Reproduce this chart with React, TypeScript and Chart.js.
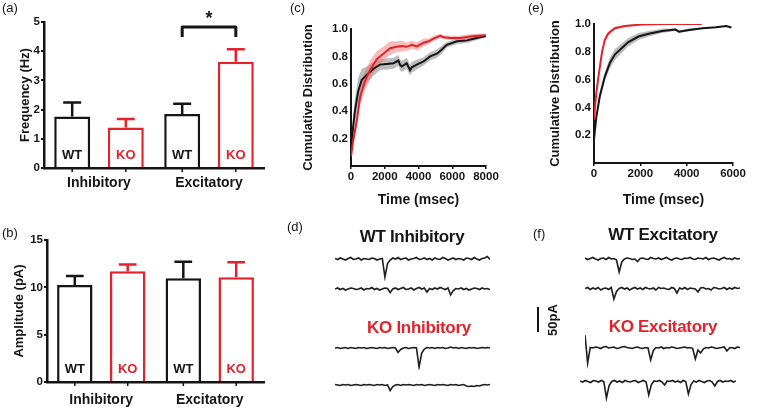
import React, { useEffect, useRef } from 'react';
import { Chart, registerables } from 'chart.js';
Chart.register(...registerables);

const FONT = "'Liberation Sans', Arial, Helvetica, sans-serif";
const RED = '#e2232b';
const INK = '#151515';

// ---------- (a) Frequency ----------
const groupLabels = ['Inhibitory', 'Excitatory'];
const seriesNames = ['WT', 'KO'];
const freqWT = [1.76, 1.85];
const freqWTErr = [0.48, 0.35];
const freqKO = [1.39, 3.64];
const freqKOErr = [0.29, 0.43];
const freqMax = 5;
const freqStep = 1;
const sigLevels = [4.83, 4.49]; // bracket level, bracket end
const sigText = '*';

// ---------- (b) Amplitude ----------
const ampWT = [10.24, 10.95];
const ampWTErr = [0.96, 1.75];
const ampKO = [11.7, 11.06];
const ampKOErr = [0.7, 1.6];
const ampMax = 15;
const ampStep = 5;

// ---------- (c) Cumulative distribution, inhibitory ----------
const cKOTime = [0, 150, 340, 535, 830, 1130, 1525, 1920, 2320, 2710, 3000, 3300, 3600, 3900, 4300, 4600, 4890, 5290, 5485, 5880, 6475, 7070, 7500, 8000];
const cKOMean = [0.07, 0.2, 0.33, 0.5, 0.62, 0.7, 0.78, 0.82, 0.86, 0.87, 0.875, 0.87, 0.885, 0.873, 0.9, 0.91, 0.93, 0.95, 0.94, 0.935, 0.935, 0.946, 0.95, 0.955];
const cKOSem = [0.01, 0.03, 0.05, 0.06, 0.07, 0.07, 0.06, 0.05, 0.05, 0.04, 0.04, 0.03, 0.03, 0.03, 0.03, 0.02, 0.02, 0.015, 0.015, 0.015, 0.015, 0.015, 0.015, 0.01];
const cWTTime = [0, 120, 240, 435, 640, 930, 1330, 1720, 2120, 2515, 2810, 2900, 3010, 3300, 3500, 3600, 3900, 4300, 4690, 5090, 5385, 5680, 6280, 6870, 7465, 8000];
const cWTMean = [0.1, 0.28, 0.41, 0.55, 0.63, 0.665, 0.71, 0.74, 0.745, 0.75, 0.77, 0.74, 0.726, 0.75, 0.7, 0.72, 0.74, 0.763, 0.8, 0.82, 0.85, 0.885, 0.91, 0.917, 0.934, 0.95];
const cWTSem = [0.02, 0.06, 0.09, 0.1, 0.08, 0.06, 0.05, 0.04, 0.04, 0.04, 0.04, 0.04, 0.04, 0.04, 0.04, 0.04, 0.035, 0.03, 0.03, 0.03, 0.03, 0.02, 0.02, 0.02, 0.015, 0.01];
const cXMax = 8000;

// ---------- (e) Cumulative distribution, excitatory ----------
const eKOTime = [0, 50, 100, 175, 250, 350, 465, 610, 900, 1340, 2070, 3000, 4000, 4650];
const eKOMean = [0.31, 0.42, 0.5, 0.6, 0.69, 0.8, 0.885, 0.93, 0.97, 0.985, 0.997, 1.0, 1.0, 1.0];
const eKOSem = [0.01, 0.02, 0.02, 0.02, 0.02, 0.02, 0.02, 0.015, 0.01, 0.008, 0.005, 0.003, 0.003, 0.003];
const eWTTime = [0, 100, 250, 465, 685, 900, 1190, 1485, 1920, 2360, 2940, 3520, 3670, 4100, 4690, 5270, 5710, 5930];
const eWTMean = [0.17, 0.33, 0.48, 0.62, 0.72, 0.78, 0.825, 0.87, 0.91, 0.93, 0.95, 0.96, 0.945, 0.957, 0.97, 0.976, 0.985, 0.975];
const eWTSem = [0.01, 0.02, 0.03, 0.03, 0.04, 0.04, 0.035, 0.03, 0.025, 0.02, 0.015, 0.01, 0.01, 0.01, 0.005, 0.005, 0.005, 0.005];
const eXMax = 6000;

// ---------- (d)/(f) example traces (pA) ----------
const dWT1 = [1,-1,2,0,-2,1,3,-1,0,2,-2,1,0,-1,2,1,-2,0,1,-36,-9,-2,2,0,3,-1,1,2,-2,0,1,3,-1,0,2,-1,1,-2,2,0,-1,3,1,-2,0,2,-1,1,0,-2,2,1,-1,3,0,-2,1,2,5,-1];
const dWT2 = [0,2,-1,1,-2,0,2,1,-1,0,2,-2,1,0,3,-1,1,-2,0,2,1,-7,0,2,-1,1,3,-1,0,2,-2,1,3,0,2,-6,1,-1,2,0,3,1,-1,2,-12,-3,1,0,2,-1,1,-2,0,2,1,-1,2,0,1,-1];
const dKO1 = [0,1,-1,0,1,-1,1,0,-1,1,0,1,-1,0,1,0,-1,1,0,1,-1,0,1,0,-9,-3,0,1,-1,0,1,0,-38,-10,-2,1,0,1,-1,1,0,1,-1,0,2,0,1,-1,1,0,-1,1,0,1,-1,0,1,0,1,0];
const dKO2 = [1,0,-1,1,0,1,-1,0,1,0,-1,1,0,1,0,-1,1,0,1,-1,0,-11,-3,0,1,-1,1,0,1,0,-1,1,0,1,-1,0,1,0,-1,1,0,1,0,-1,1,0,1,-1,0,1,-2,-3,-2,-3,-1,-2,0,1,0,1];
const fWT1 = [2,-1,1,3,0,-2,1,2,-1,3,0,1,-2,-26,-6,0,2,1,-1,0,-5,1,2,0,-1,3,1,0,2,-1,1,3,0,-2,1,2,0,-1,2,1,3,0,-1,2,1,0,3,-1,1,2,0,-2,1,3,0,1,-1,2,0,1];
const fWT2 = [1,3,-1,2,0,3,-2,1,2,-1,3,-20,-5,1,3,0,2,-2,1,3,0,2,-1,3,1,0,2,-2,3,1,2,0,-1,3,1,-8,2,0,3,-1,2,1,0,-6,2,3,0,1,-2,3,2,0,1,3,-1,2,0,3,1,2];
const fKO1 = [26,-30,1,0,2,1,-1,2,3,0,1,2,-1,0,2,3,1,0,-1,1,2,0,-1,1,0,-24,-5,1,0,2,-1,1,0,2,1,-1,0,1,2,0,1,-1,-22,-4,-10,-2,1,0,2,1,-1,0,1,2,-6,0,1,-1,2,1];
const fKO2 = [2,0,3,1,-1,3,2,0,3,1,-32,-7,1,3,0,2,-1,3,1,0,2,3,-1,1,3,0,-26,-5,2,1,3,0,-6,2,1,3,0,2,-1,3,1,-24,-5,2,0,3,1,-1,2,3,0,-8,1,3,0,2,1,3,0,2];
const traceRange = [-44, 44];
const scaleBarText = '50pA';

const panelTitles = { dWT: 'WT Inhibitory', dKO: 'KO Inhibitory', fWT: 'WT Excitatory', fKO: 'KO Excitatory' };

const baseOptions = {
  responsive: false,
  animation: false as const,
  devicePixelRatio: 1,
  events: [] as any[],
  plugins: { legend: { display: false }, tooltip: { enabled: false } },
};

const barDecor = {
  id: 'barDecor',
  afterDatasetsDraw(chart: any, _a: any, opts: any) {
    const ctx = chart.ctx;
    const y = chart.scales.y;
    const base = y.getPixelForValue(0);
    ctx.save();
    chart.data.datasets.forEach((ds: any, di: number) => {
      const meta = chart.getDatasetMeta(di);
      meta.data.forEach((bar: any, i: number) => {
        const v = ds.data[i];
        const e = ds.errors[i];
        const x = bar.x;
        const w = bar.width;
        const top = y.getPixelForValue(v);
        const tip = y.getPixelForValue(v + e);
        ctx.strokeStyle = ds.borderColor;
        ctx.lineWidth = 2.5;
        ctx.beginPath();
        ctx.moveTo(x, top);
        ctx.lineTo(x, tip);
        ctx.moveTo(x - w * 0.25, tip);
        ctx.lineTo(x + w * 0.25, tip);
        ctx.stroke();
        ctx.fillStyle = ds.borderColor;
        ctx.font = `bold 13px ${FONT}`;
        ctx.textAlign = 'center';
        ctx.textBaseline = 'middle';
        ctx.fillText(ds.label, x, base - 13);
        ctx.strokeStyle = INK;
        ctx.lineWidth = 1.5;
        ctx.beginPath();
        ctx.moveTo(x, base);
        ctx.lineTo(x, base + 4);
        ctx.stroke();
      });
    });
    if (opts && opts.sig) {
      const x1 = chart.getDatasetMeta(0).data[1].x;
      const x2 = chart.getDatasetMeta(1).data[1].x;
      const yl = y.getPixelForValue(opts.sig[0]);
      const yd = y.getPixelForValue(opts.sig[1]);
      ctx.strokeStyle = INK;
      ctx.lineWidth = 3;
      ctx.lineJoin = 'round';
      ctx.beginPath();
      ctx.moveTo(x1, yd);
      ctx.lineTo(x1, yl);
      ctx.lineTo(x2, yl);
      ctx.lineTo(x2, yd);
      ctx.stroke();
      ctx.fillStyle = INK;
      ctx.font = `bold 18px ${FONT}`;
      ctx.textAlign = 'center';
      ctx.textBaseline = 'alphabetic';
      ctx.fillText(opts.text, (x1 + x2) / 2, yl - 3);
    }
    ctx.restore();
  },
};

function barConfig(p: any) {
  return {
    type: 'bar',
    data: {
      labels: groupLabels,
      datasets: [
        { label: seriesNames[0], data: p.wt, errors: p.wtErr, borderColor: INK, backgroundColor: '#fff', borderWidth: 2.5 },
        { label: seriesNames[1], data: p.ko, errors: p.koErr, borderColor: RED, backgroundColor: '#fff', borderWidth: 2.5 },
      ],
    },
    plugins: [barDecor],
    options: {
      ...baseOptions,
      categoryPercentage: 0.975,
      barPercentage: 0.67,
      layout: { padding: { left: 0, top: p.padTop, right: p.padRight, bottom: 0 } },
      plugins: { ...baseOptions.plugins, barDecor: { sig: p.sig, text: sigText } },
      scales: {
        x: {
          grid: { display: true, drawOnChartArea: false, drawTicks: false },
          border: { color: INK, width: 2.5 },
          ticks: { color: INK, font: { family: FONT, size: 14, weight: 'bold' }, padding: p.labelPad },
          afterFit: (s: any) => { s.height = p.xHeight; },
        },
        y: {
          min: 0,
          max: p.max,
          ticks: { stepSize: p.step, color: INK, font: { family: FONT, size: 11.5, weight: 'bold' }, padding: 1 },
          grid: { drawOnChartArea: false, drawTicks: true, tickLength: 3, color: INK, lineWidth: 2 },
          border: { color: INK, width: 2.5 },
          title: { display: true, text: p.title, color: INK, font: { family: FONT, size: 13, weight: 'bold' }, padding: { top: p.titlePad, bottom: 0 } },
          afterFit: (s: any) => { s.width = p.yWidth; },
        },
      },
    },
  };
}

function pts(t: number[], m: number[], s: number[] | null, sign: number) {
  return t.map((x, i) => ({ x, y: m[i] + (s ? sign * s[i] : 0) }));
}

function cumConfig(p: any) {
  const line = (data: any, color: string, order: number) => ({ data, borderColor: color, borderWidth: 2, pointRadius: 0, tension: 0, fill: false, order });
  const edge = (data: any, fill: any, bg: string) => ({ data, borderColor: 'rgba(0,0,0,0)', borderWidth: 1, pointRadius: 0, tension: 0, fill, backgroundColor: bg, order: 2 });
  return {
    type: 'line',
    data: {
      datasets: [
        line(pts(p.koT, p.koM, null, 0), RED, 0),
        line(pts(p.wtT, p.wtM, null, 0), INK, 1),
        edge(pts(p.koT, p.koM, p.koS, 1), false, 'rgba(0,0,0,0)'),
        edge(pts(p.koT, p.koM, p.koS, -1), '-1', 'rgba(238,95,95,0.42)'),
        edge(pts(p.wtT, p.wtM, p.wtS, 1), false, 'rgba(0,0,0,0)'),
        edge(pts(p.wtT, p.wtM, p.wtS, -1), '-1', 'rgba(95,95,95,0.42)'),
      ],
    },
    options: {
      ...baseOptions,
      layout: { padding: { left: 0, top: p.padTop, right: p.padRight, bottom: 0 } },
      scales: {
        x: {
          type: 'linear',
          min: 0,
          max: p.xMax,
          ticks: { stepSize: 2000, color: INK, font: { family: FONT, size: 11.5, weight: 'bold' }, padding: 1, callback: (v: number) => String(v) },
          grid: { drawOnChartArea: false, drawTicks: true, tickLength: 3, color: INK, lineWidth: 1.5 },
          border: { color: INK, width: 2 },
          title: { display: true, text: 'Time (msec)', color: INK, font: { family: FONT, size: 14, weight: 'bold' }, padding: { top: 0, bottom: 1.6 } },
          afterFit: (s: any) => { s.height = p.xHeight; },
        },
        y: {
          min: 0,
          max: 1,
          ticks: { stepSize: 0.2, color: INK, font: { family: FONT, size: 11.5, weight: 'bold' }, padding: 3, callback: (v: number) => (v === 0 ? '' : v.toFixed(1)) },
          grid: { drawOnChartArea: false, drawTicks: false },
          border: { color: INK, width: 2 },
          title: { display: true, text: 'Cumulative Distribution', color: INK, font: { family: FONT, size: 13, weight: 'bold' }, padding: { top: p.titlePad, bottom: 0 } },
          afterFit: (s: any) => { s.width = p.yWidth; },
        },
      },
    },
  };
}

function traceConfig(values: number[]) {
  return {
    type: 'line',
    data: {
      labels: values.map((_, i) => i),
      datasets: [{ data: values, borderColor: '#1e1e1e', borderWidth: 1.6, pointRadius: 0, tension: 0, fill: false }],
    },
    options: {
      ...baseOptions,
      layout: { padding: 0 },
      scales: {
        x: { display: false, offset: false },
        y: { display: false, min: traceRange[0], max: traceRange[1] },
      },
    },
  };
}

function ChartBox({ left, top, width, height, config }: any) {
  const ref = useRef<HTMLCanvasElement>(null);
  useEffect(() => {
    const chart = new Chart(ref.current as HTMLCanvasElement, config as any);
    return () => chart.destroy();
  }, []);
  return (
    <div style={{ position: 'absolute', left, top, width, height }}>
      <canvas ref={ref} width={width} height={height} style={{ display: 'block', width, height }} />
    </div>
  );
}

function Label({ x, y, text, color = INK, size = 13, bold = false, center = false }: any) {
  return (
    <div
      style={{
        position: 'absolute',
        left: x,
        top: y,
        transform: center ? 'translate(-50%, -50%)' : undefined,
        fontFamily: FONT,
        fontSize: size,
        fontWeight: bold ? 'bold' : 'normal',
        color,
        whiteSpace: 'nowrap',
        lineHeight: 1.15,
        letterSpacing: bold && size > 15 ? '-0.3px' : undefined,
      }}
    >
      {text}
    </div>
  );
}

export default function App() {
  const aCfg = barConfig({ wt: freqWT, wtErr: freqWTErr, ko: freqKO, koErr: freqKOErr, max: freqMax, step: freqStep, title: 'Frequency (Hz)', yWidth: 44, padTop: 22, padRight: 4, xHeight: 32, titlePad: 18, labelPad: 7, sig: sigLevels });
  const bCfg = barConfig({ wt: ampWT, wtErr: ampWTErr, ko: ampKO, koErr: ampKOErr, max: ampMax, step: ampStep, title: 'Amplitude (pA)', yWidth: 47, padTop: 40, padRight: 4, xHeight: 29, titlePad: 12, labelPad: 9.6, sig: null });
  const cCfg = cumConfig({ koT: cKOTime, koM: cKOMean, koS: cKOSem, wtT: cWTTime, wtM: cWTMean, wtS: cWTSem, xMax: cXMax, yWidth: 89, padTop: 29, padRight: 26, xHeight: 44, titlePad: 39 });
  const eCfg = cumConfig({ koT: eKOTime, koM: eKOMean, koS: eKOSem, wtT: eWTTime, wtM: eWTMean, wtS: eWTSem, xMax: eXMax, yWidth: 82, padTop: 24, padRight: 28, xHeight: 47, titlePad: 36 });

  return (
    <div style={{ position: 'absolute', left: 0, top: 0, width: 761, height: 411, background: '#fff', overflow: 'hidden' }}>
      <ChartBox left={0} top={0} width={268} height={200} config={aCfg} />
      <ChartBox left={0} top={200} width={268} height={211} config={bCfg} />
      <ChartBox left={262} top={0} width={250} height={210} config={cCfg} />
      <ChartBox left={512} top={0} width={249} height={210} config={eCfg} />

      <ChartBox left={335} top={237} width={155} height={44} config={traceConfig(dWT1)} />
      <ChartBox left={335} top={267} width={155} height={44} config={traceConfig(dWT2)} />
      <ChartBox left={335} top={326} width={155} height={44} config={traceConfig(dKO1)} />
      <ChartBox left={335} top={363} width={155} height={44} config={traceConfig(dKO2)} />
      <ChartBox left={585} top={237} width={155} height={44} config={traceConfig(fWT1)} />
      <ChartBox left={585} top={267} width={155} height={44} config={traceConfig(fWT2)} />
      <ChartBox left={585} top={326} width={155} height={44} config={traceConfig(fKO1)} />
      <ChartBox left={580} top={360} width={156} height={44} config={traceConfig(fKO2)} />

      <Label x={2} y={1} text="(a)" />
      <Label x={2} y={226} text="(b)" />
      <Label x={290} y={1} text="(c)" />
      <Label x={287} y={220} text="(d)" />
      <Label x={528} y={1} text="(e)" />
      <Label x={533} y={227} text="(f)" />

      <Label x={412} y={237} text={panelTitles.dWT} size={17} bold center />
      <Label x={419} y={328} text={panelTitles.dKO} size={17} bold center color={RED} />
      <Label x={663} y={235} text={panelTitles.fWT} size={17} bold center />
      <Label x={663} y={327} text={panelTitles.fKO} size={17} bold center color={RED} />

      <div style={{ position: 'absolute', left: 537, top: 307, width: 2, height: 25, background: INK }} />
      <div
        style={{
          position: 'absolute',
          left: 552,
          top: 320,
          transform: 'translate(-50%, -50%) rotate(-90deg)',
          fontFamily: FONT,
          fontSize: 13,
          fontWeight: 'bold',
          color: INK,
          whiteSpace: 'nowrap',
        }}
      >
        {scaleBarText}
      </div>
    </div>
  );
}
